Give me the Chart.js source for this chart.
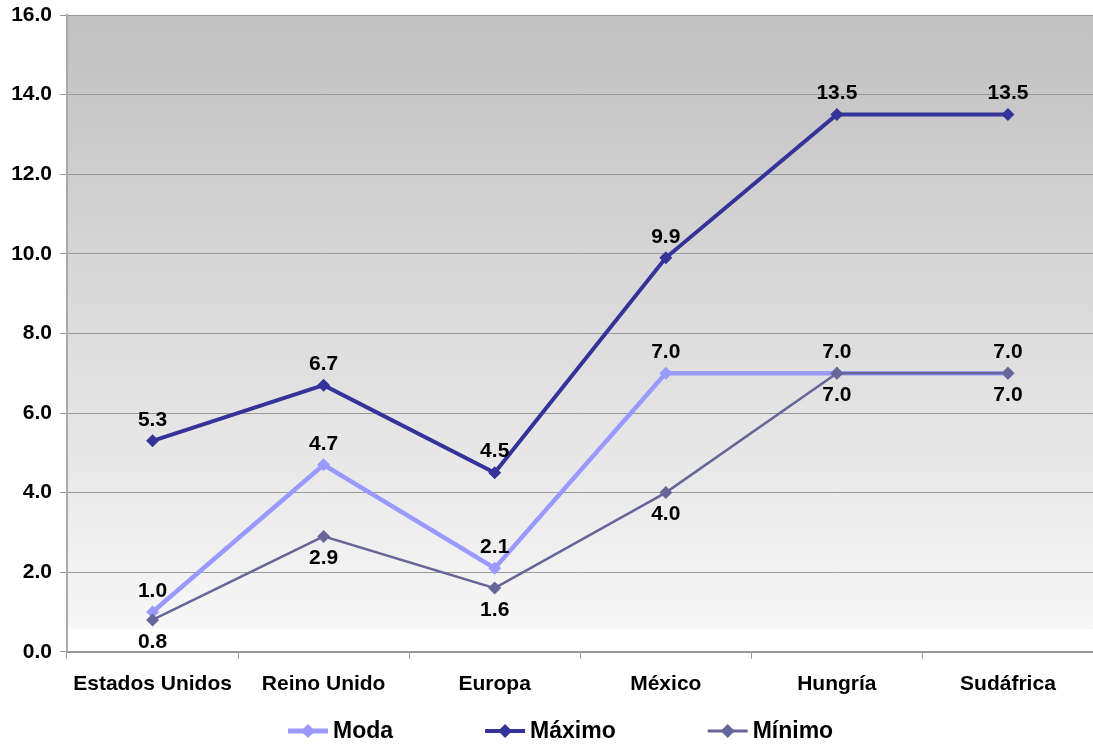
<!DOCTYPE html>
<html>
<head>
<meta charset="utf-8">
<script src="https://cdn.jsdelivr.net/npm/chart.js@4/dist/chart.umd.min.js"></script>
<style>
  html, body { margin: 0; padding: 0; background: #ffffff; overflow: hidden; }
  #wrap { width: 1100px; height: 745px; position: relative; }
</style>
</head>
<body>
<div id="wrap"><canvas id="chart"></canvas></div>
<script>
// Categories and series
const categories = ['Estados Unidos', 'Reino Unido', 'Europa', 'México', 'Hungría', 'Sudáfrica'];
const moda   = [1.0, 4.7, 2.1, 7.0, 7.0, 7.0];
const maximo = [5.3, 6.7, 4.5, 9.9, 13.5, 13.5];
const minimo = [0.8, 2.9, 1.6, 4.0, 7.0, 7.0];
const seriesNames = ['Moda', 'Máximo', 'Mínimo'];
const yTicks = [0, 2, 4, 6, 8, 10, 12, 14, 16];

const FONT = '"Liberation Sans", Arial, Helvetica, sans-serif';
Chart.defaults.font.family = FONT;
Chart.defaults.color = '#000000';

// Gray-to-white fill behind the plot area
const plotBackground = {
  id: 'plotBackground',
  beforeDraw(chart) {
    const { ctx, chartArea: a } = chart;
    const g = ctx.createLinearGradient(0, a.top, 0, a.bottom);
    g.addColorStop(0, '#c0c0c0');
    g.addColorStop(0.963, '#f7f7f7');
    g.addColorStop(0.965, '#ffffff');
    g.addColorStop(1, '#ffffff');
    ctx.save();
    ctx.fillStyle = g;
    ctx.fillRect(a.left, a.top, a.right - a.left, a.bottom - a.top);
    ctx.restore();
  }
};

// Value labels above or below each point
const valueLabels = {
  id: 'valueLabels',
  afterDatasetsDraw(chart) {
    const { ctx } = chart;
    ctx.save();
    ctx.font = 'bold 21px ' + FONT;
    ctx.fillStyle = '#000000';
    ctx.textAlign = 'center';
    ctx.textBaseline = 'middle';
    chart.data.datasets.forEach((ds, i) => {
      const meta = chart.getDatasetMeta(i);
      const dy = ds.labelPos === 'below' ? 22 : -21;
      meta.data.forEach((pt, j) => {
        ctx.fillText(ds.data[j].toFixed(1), pt.x, pt.y + dy);
      });
    });
    ctx.restore();
  }
};

// Legend row: line with diamond marker followed by the series name
const lineLegend = {
  id: 'lineLegend',
  afterDraw(chart) {
    const { ctx } = chart;
    const lineLen = 40, textGap = 5, itemGap = 92, startX = 288, y = 731;
    ctx.save();
    ctx.font = 'bold 23px ' + FONT;
    ctx.textBaseline = 'middle';
    ctx.textAlign = 'left';
    let x = startX;
    chart.data.datasets.forEach(ds => {
      const w = ctx.measureText(ds.label).width;
      ctx.strokeStyle = ds.borderColor;
      ctx.lineWidth = ds.legendLineWidth;
      ctx.beginPath();
      ctx.moveTo(x, y);
      ctx.lineTo(x + lineLen, y);
      ctx.stroke();
      const cx = x + lineLen / 2, r = 7;
      ctx.fillStyle = ds.borderColor;
      ctx.beginPath();
      ctx.moveTo(cx, y - r);
      ctx.lineTo(cx + r, y);
      ctx.lineTo(cx, y + r);
      ctx.lineTo(cx - r, y);
      ctx.closePath();
      ctx.fill();
      ctx.fillStyle = '#000000';
      ctx.fillText(ds.label, x + lineLen + textGap, y + 1);
      x += lineLen + textGap + w + itemGap;
    });
    ctx.restore();
  }
};

function series(label, data, color, width, legendWidth, order, labelPos) {
  return {
    label, data, order, labelPos,
    borderColor: color,
    backgroundColor: color,
    borderWidth: width,
    legendLineWidth: legendWidth,
    pointStyle: 'rectRot',
    pointRadius: 6.5,
    pointHoverRadius: 6.5,
    pointBackgroundColor: color,
    pointBorderColor: color,
    pointBorderWidth: 0,
    tension: 0,
    fill: false
  };
}

new Chart(document.getElementById('chart'), {
  type: 'line',
  data: {
    labels: categories,
    datasets: [
      series(seriesNames[0], moda,   '#9999ff', 4.5, 5, 3, 'above'),
      series(seriesNames[1], maximo, '#333399', 4,   4, 2, 'above'),
      series(seriesNames[2], minimo, '#666699', 2.5, 3, 1, 'below')
    ]
  },
  options: {
    responsive: true,
    maintainAspectRatio: false,
    animation: false,
    events: [],
    layout: { padding: { top: 15, right: 0, bottom: 35, left: 0 } },
    plugins: {
      legend: { display: false },
      tooltip: { enabled: false },
      title: { display: false }
    },
    scales: {
      x: {
        type: 'category',
        offset: true,
        grid: {
          offset: true,
          drawOnChartArea: false,
          drawTicks: true,
          tickLength: 7,
          color: '#999999',
          lineWidth: 1
        },
        border: { display: true, color: '#999999', width: 2 },
        ticks: {
          font: { size: 21, weight: 'bold' },
          color: '#000000',
          padding: 13,
          maxRotation: 0,
          autoSkip: false
        }
      },
      y: {
        min: 0,
        max: 16,
        afterBuildTicks(scale) {
          scale.ticks = yTicks.map(v => ({ value: v }));
        },
        afterFit(scale) {
          scale.width = 67;
          scale.paddingTop = 0;
          scale.paddingBottom = 0;
        },
        grid: {
          color: '#999999',
          lineWidth: 1,
          tickLength: 7,
          drawTicks: true
        },
        border: { display: true, color: '#aaaaaa', width: 2 },
        ticks: {
          font: { size: 21, weight: 'bold' },
          color: '#000000',
          padding: 8,
          callback: v => Number(v).toFixed(1)
        }
      }
    }
  },
  plugins: [plotBackground, valueLabels, lineLegend]
});
</script>
</body>
</html>
